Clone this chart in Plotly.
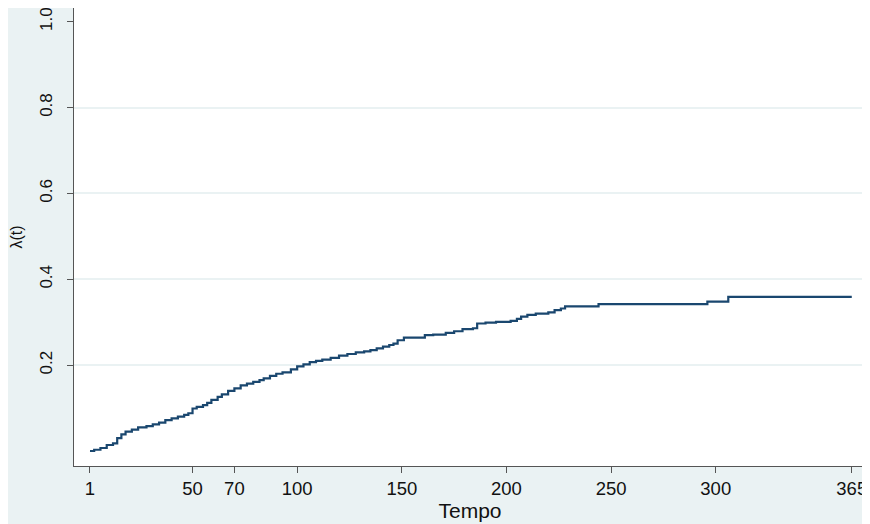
import plotly.graph_objects as go

# Data (cumulative hazard step curve)
tempo = [1, 3, 6, 9, 12, 14, 16, 18, 21, 24, 28, 31, 34, 37, 40, 43, 46, 48, 50, 52,
         55, 57, 59, 62, 64, 67, 70, 73, 76, 79, 82, 84, 87, 90, 93, 97, 100, 103, 106,
         109, 112, 116, 120, 124, 128, 132, 135, 138, 141, 144, 146, 148, 151, 161, 165,
         171, 175, 179, 184, 186, 190, 195, 202, 205, 207, 210, 214, 220, 223, 226, 228,
         244, 296, 306, 365]
lambda_t = [0.000, 0.003, 0.007, 0.014, 0.018, 0.030, 0.039, 0.045, 0.050, 0.055, 0.058,
            0.062, 0.066, 0.072, 0.076, 0.080, 0.084, 0.088, 0.099, 0.103, 0.107, 0.112,
            0.119, 0.126, 0.132, 0.140, 0.146, 0.153, 0.157, 0.161, 0.165, 0.169, 0.175,
            0.180, 0.183, 0.190, 0.197, 0.202, 0.207, 0.210, 0.213, 0.217, 0.222, 0.226,
            0.230, 0.232, 0.235, 0.239, 0.243, 0.247, 0.250, 0.258, 0.264, 0.270, 0.271,
            0.275, 0.279, 0.284, 0.286, 0.297, 0.299, 0.301, 0.303, 0.308, 0.313, 0.317,
            0.320, 0.323, 0.328, 0.332, 0.337, 0.342, 0.348, 0.359, 0.359]

x_ticks = [1, 50, 70, 100, 150, 200, 250, 300, 365]
y_ticks = [0.2, 0.4, 0.6, 0.8, 1.0]
y_ticktext = ["0.2", "0.4", "0.6", "0.8", "1.0"]
y_grid = [0.2, 0.4, 0.6, 0.8]

LINE = "#1a476f"
BG = "#eaf2f3"
AXIS = "#555555"
TXT = "#111111"
FONT = "Liberation Sans, Arial, sans-serif"

fig = go.Figure()
fig.add_trace(go.Scatter(
    x=tempo, y=lambda_t, mode="lines", line=dict(color=LINE, width=2.2, shape="hv"),
    showlegend=False, hoverinfo="x+y"))
fig.add_trace(go.Scatter(x=[None], y=[None], yaxis="y2", showlegend=False, hoverinfo="skip"))

fig.update_layout(
    width=862, height=516,
    margin=dict(l=66, r=4, t=0, b=58, pad=0),
    paper_bgcolor=BG,
    plot_bgcolor="white",
    font=dict(family=FONT, color=TXT),
    xaxis=dict(
        range=[-6.64, 371.8], tickmode="array", tickvals=x_ticks,
        ticks="outside", ticklen=6, tickwidth=1, tickcolor=AXIS,
        showline=True, linecolor=AXIS, linewidth=1, showgrid=False, zeroline=False,
        tickfont=dict(size=18.5, family=FONT, color=TXT), ticklabelstandoff=0,
        ticklabeloverflow="allow",
        title=dict(text="Tempo", font=dict(size=21, family=FONT, color=TXT), standoff=0),
        automargin=False, fixedrange=True),
    yaxis=dict(
        range=[-0.0349, 1.032], tickmode="array", tickvals=y_ticks, ticktext=y_ticktext,
        tickangle=-90, ticks="outside", ticklen=6, tickwidth=1, tickcolor=AXIS,
        showline=True, linecolor=AXIS, linewidth=1, showgrid=False, zeroline=False,
        tickfont=dict(size=17, family=FONT, color=TXT), ticklabelstandoff=8,
        ticklabeloverflow="allow",
        title=dict(text="λ(t)", font=dict(size=16, family=FONT, color=TXT), standoff=12),
        automargin=False, fixedrange=True),
    yaxis2=dict(
        overlaying="y", range=[-0.0349, 1.032], tickmode="array", tickvals=y_grid,
        showgrid=True, gridcolor=BG, gridwidth=1.5, showticklabels=False, ticks="",
        showline=False, zeroline=False, fixedrange=True),
)

fig.write_html("out.html", post_script="document.body.style.overflow='hidden';")
